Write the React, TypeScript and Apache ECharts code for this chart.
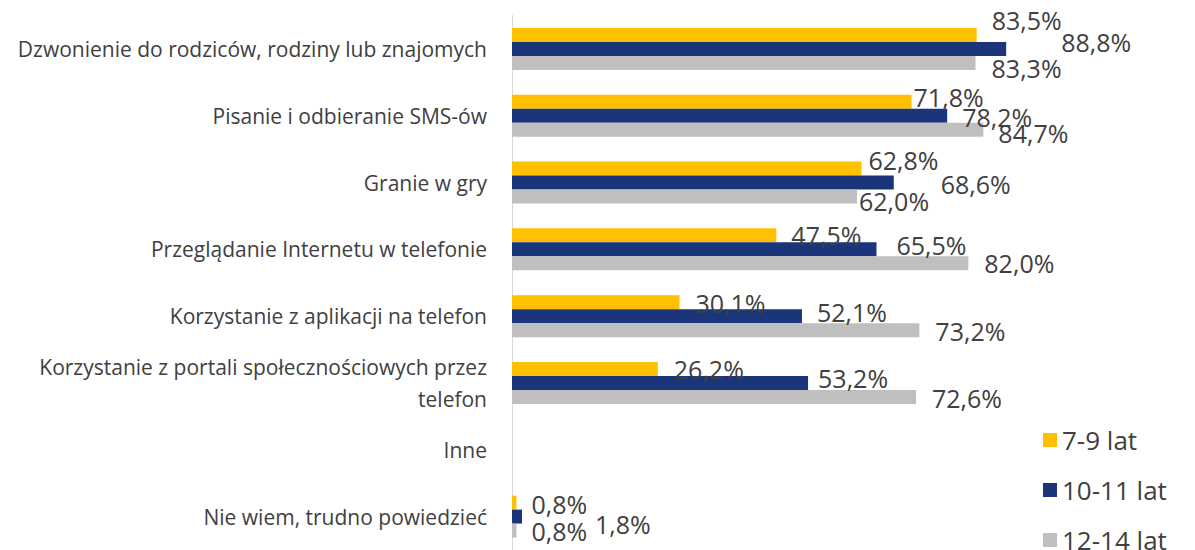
import React, { useEffect, useRef } from "react";
import * as echarts from "echarts";

const categories = [
  "Dzwonienie do rodziców, rodziny lub znajomych",
  "Pisanie i odbieranie SMS-ów",
  "Granie w gry",
  "Przeglądanie Internetu w telefonie",
  "Korzystanie z aplikacji na telefon",
  "Korzystanie z portali społecznościowych przez\ntelefon",
  "Inne",
  "Nie wiem, trudno powiedzieć",
];

const seriesNames = ["7-9 lat", "10-11 lat", "12-14 lat"];

const values7to9 = [83.5, 71.8, 62.8, 47.5, 30.1, 26.2, null, 0.8];
const values10to11 = [88.8, 78.2, 68.6, 65.5, 52.1, 53.2, null, 1.8];
const values12to14 = [83.3, 84.7, 62.0, 82.0, 73.2, 72.6, null, 0.8];

// label nudges (pixels) as placed in the original, per series / per category
const labelOffsets7to9 = [[15, -15], [2, -5], [7, -9], [15, 0], [16, 1], [16, 0], [0, 0], [15, 1]];
const labelOffsets10to11 = [[55, -7], [15, 1], [47, 1], [20, -4], [15, -4], [10, -5], [0, 0], [73, 7]];
const labelOffsets12to14 = [[16, 5], [15, 3], [2, 4], [16, 0], [16, 1], [16, 1], [0, 0], [15, 0]];

const colors = ["#FFC000", "#1B357A", "#BFBFBF"];

const FONT = "'Open Sans', sans-serif";

function fmt(p: any) {
  const v = p.value;
  if (v === null || v === undefined || v === "-" || isNaN(v)) return "";
  return Number(v).toFixed(1).replace(".", ",") + "%";
}

function buildData(vals: (number | null)[], offs: number[][]) {
  return vals.map((v, i) =>
    v === null ? "-" : { value: v, label: { offset: offs[i] } }
  );
}

export default function App() {
  const ref = useRef<HTMLDivElement>(null);
  useEffect(() => {
    if (!ref.current) return;
    const chart = echarts.init(ref.current, undefined, { renderer: "svg" });
    const labelStyle = {
      show: true,
      position: "right",
      distance: 0,
      fontSize: 25,
      fontFamily: FONT,
      color: "#404040",
      formatter: fmt,
    };
    const allVals = [values7to9, values10to11, values12to14];
    const allOffs = [labelOffsets7to9, labelOffsets10to11, labelOffsets12to14];
    chart.setOption({
      animation: false,
      textStyle: { fontFamily: FONT },
      grid: { left: 512, right: 126.5, top: 15.5, bottom: -5, containLabel: false },
      xAxis: { type: "value", min: 0, max: 100, show: false },
      yAxis: {
        type: "category",
        inverse: true,
        data: categories,
        axisTick: { show: false },
        axisLine: { show: true, lineStyle: { color: "#D9D9D9", width: 1 } },
        axisLabel: {
          margin: 25,
          fontSize: 21,
          lineHeight: 32,
          fontFamily: FONT,
          color: "#404040",
          align: "right",
        },
      },
      legend: {
        orient: "vertical",
        left: 1043,
        top: 427,
        height: 200,
        padding: 0,
        itemWidth: 14,
        itemHeight: 14,
        itemGap: 24,
        icon: "rect",
        data: seriesNames,
        textStyle: { fontSize: 26, color: "#404040", fontFamily: FONT },
      },
      series: seriesNames.map((name, i) => ({
        name,
        type: "bar",
        barWidth: 14,
        barGap: "0%",
        itemStyle: { color: colors[i] },
        label: labelStyle,
        data: buildData(allVals[i], allOffs[i]),
      })),
    });
    return () => chart.dispose();
  }, []);
  return (
    <div
      ref={ref}
      style={{ position: "absolute", left: 0, top: 0, width: 1195, height: 550 }}
    />
  );
}
